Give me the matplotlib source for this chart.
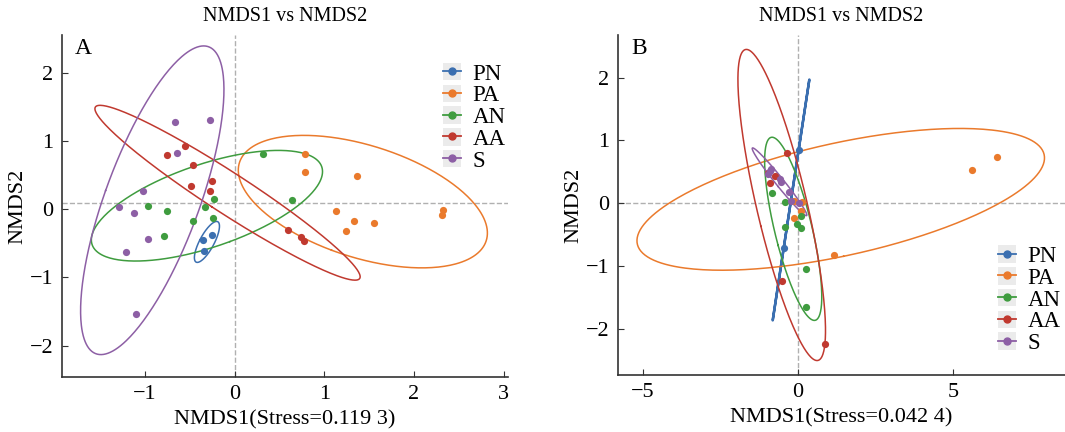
import numpy as np
import matplotlib
matplotlib.use('Agg')
import matplotlib.pyplot as plt
from matplotlib.patches import Patch

plt.rcParams['font.family'] = ['Liberation Serif', 'DejaVu Serif']

groups = ['PN', 'PA', 'AN', 'AA', 'S']
colors = ['#3b6fb0', '#ea7a2c', '#3f9c3f', '#c0392f', '#8d5fa5']

# panel A points
a_pn_x = [-0.25, -0.35, -0.34]
a_pn_y = [-0.38, -0.45, -0.61]
a_pa_x = [0.79, 0.79, 1.36, 1.13, 1.33, 1.24, 1.56, 2.33, 2.31]
a_pa_y = [0.81, 0.54, 0.49, -0.03, -0.18, -0.32, -0.20, -0.01, -0.09]
a_an_x = [0.32, 0.64, -0.23, -0.33, -0.24, -0.46, -0.76, -0.97, -0.79]
a_an_y = [0.81, 0.13, 0.15, 0.03, -0.13, -0.18, -0.02, 0.04, -0.40]
a_aa_x = [-0.56, -0.76, -0.46, -0.25, -0.49, -0.28, 0.60, 0.74, 0.77]
a_aa_y = [0.92, 0.79, 0.65, 0.41, 0.34, 0.26, -0.31, -0.41, -0.46]
a_s_x = [-0.67, -0.28, -0.64, -1.02, -1.29, -1.12, -0.97, -1.21, -1.10]
a_s_y = [1.28, 1.31, 0.82, 0.26, 0.03, -0.05, -0.43, -0.63, -1.54]

# panel B points
b_pn_x = [0.03, -0.44]
b_pn_y = [0.85, -0.72]
b_pa_x = [5.62, 6.40, 1.16, -0.11, 0.11, 0.14, -0.14]
b_pa_y = [0.52, 0.74, -0.83, -0.23, -0.13, 0.01, 0.04]
b_an_x = [-0.84, -0.43, -0.42, -0.03, 0.10, 0.09, 0.25, 0.27]
b_an_y = [0.16, 0.01, -0.38, -0.33, -0.39, -0.20, -1.05, -1.65]
b_aa_x = [-0.34, -0.91, -0.75, -0.97, -0.50, 0.86]
b_aa_y = [0.80, 0.32, 0.43, 0.48, -1.24, -2.24]
b_s_x = [-0.91, -0.88, -0.95, -0.59, -0.54, -0.29, -0.21, 0.03]
b_s_y = [0.51, 0.55, 0.47, 0.38, 0.33, 0.17, 0.04, 0.00]

# ellipses: centre x, centre y, half width, half height, y at rightmost point
a_ell = {
    'PN': (-0.31, -0.48, 0.14, 0.30, -0.25),
    'PA': (1.43, 0.11, 1.39, 0.97, -0.35),
    'AN': (-0.31, 0.05, 1.29, 0.81, 0.55),
    'AA': (-0.08, 0.24, 1.48, 1.28, -0.99),
    'S': (-0.92, 0.13, 0.80, 2.26, 1.75),
}
b_ell = {
    'PN': (-0.22, 0.05, 0.59, 1.92, 1.97),
    'PA': (1.38, 0.06, 6.56, 1.13, 0.72),
    'AN': (-0.15, -0.41, 0.92, 1.46, -1.49),
    'AA': (-0.52, -0.03, 1.41, 2.48, -2.03),
    'S': (-0.59, 0.34, 0.88, 0.54, -0.19),
}

a_pts = {'PN': (a_pn_x, a_pn_y), 'PA': (a_pa_x, a_pa_y), 'AN': (a_an_x, a_an_y),
         'AA': (a_aa_x, a_aa_y), 'S': (a_s_x, a_s_y)}
b_pts = {'PN': (b_pn_x, b_pn_y), 'PA': (b_pa_x, b_pa_y), 'AN': (b_an_x, b_an_y),
         'AA': (b_aa_x, b_aa_y), 'S': (b_s_x, b_s_y)}


def ellipse_xy(cx, cy, hx, hy, yr):
    sxy = (yr - cy) * hx
    m = np.array([[hx ** 2, sxy], [sxy, hy ** 2]])
    w, v = np.linalg.eigh(m)
    L = v @ np.diag(np.sqrt(np.clip(w, 0, None)))
    t = np.linspace(0, 2 * np.pi, 300)
    p = L @ np.vstack([np.cos(t), np.sin(t)])
    return cx + p[0], cy + p[1]


def minus(v):
    return '\u2212%d' % -v if v < 0 else '%d' % v


def panel(ax, pts, ell, xlim, ylim, xticks, yticks, hline, letter, xlabel, legend_loc, anchor):
    ax.axvline(0, color='#b0b0b0', ls='--', lw=1, zorder=0)
    ax.axhline(hline, color='#b0b0b0', ls='--', lw=1, zorder=0)
    for g, c in zip(groups, colors):
        ex, ey = ellipse_xy(*ell[g])
        ax.plot(ex, ey, color=c, lw=1.8 if (g == 'PN' and letter == 'B') else 1.1)
    for g, c in zip(groups, colors):
        x, y = pts[g]
        ax.plot(x, y, 'o', color=c, ms=5.2, mec='none')
    ax.set_xlim(*xlim)
    ax.set_ylim(*ylim)
    ax.set_xticks(xticks)
    ax.set_yticks(yticks)
    ax.set_xticklabels([minus(v) for v in xticks])
    ax.set_yticklabels([minus(v) for v in yticks])
    for s in ['top', 'right']:
        ax.spines[s].set_visible(False)
    for s in ['left', 'bottom']:
        ax.spines[s].set_color('#333333')
        ax.spines[s].set_linewidth(1.2)
    ax.tick_params(direction='in', length=4, labelsize=16, color='#333333', pad=6)
    ax.set_xlabel(xlabel, fontsize=16, labelpad=4)
    ax.set_ylabel('NMDS2', fontsize=16, labelpad=2)
    ax.set_title('NMDS1 vs NMDS2', fontsize=14.5, pad=10)
    ax.text(0.03, 0.99, letter, transform=ax.transAxes, fontsize=17, va='top', ha='left')
    handles = [(Patch(facecolor='#ebebeb', edgecolor='none'),
                plt.Line2D([], [], color=c, marker='o', ms=5, lw=1.3)) for c in colors]
    ax.legend(handles, groups, loc=legend_loc, bbox_to_anchor=anchor, frameon=False, fontsize=16.5,
              handlelength=0.8, handleheight=0.8, handletextpad=0.5, labelspacing=0.0,
              borderaxespad=0, borderpad=0.1)


fig = plt.figure(figsize=(10.65, 4.32), dpi=100)
ax1 = fig.add_axes([0.058, 0.127, 0.419, 0.792])
ax2 = fig.add_axes([0.580, 0.132, 0.420, 0.787])

panel(ax1, a_pts, a_ell, (-1.93, 3.05), (-2.46, 2.55), [-1, 0, 1, 2, 3], [-2, -1, 0, 1, 2],
      0.09, 'A', 'NMDS1(Stress=0.119 3)', 'upper right', (1.0, 0.925))
panel(ax2, b_pts, b_ell, (-5.8, 8.6), (-2.74, 2.68), [-5, 0, 5], [-2, -1, 0, 1, 2],
      0.0, 'B', 'NMDS1(Stress=0.042 4)', 'lower right', (0.995, 0.055))

fig.savefig('out.png', dpi=100)
